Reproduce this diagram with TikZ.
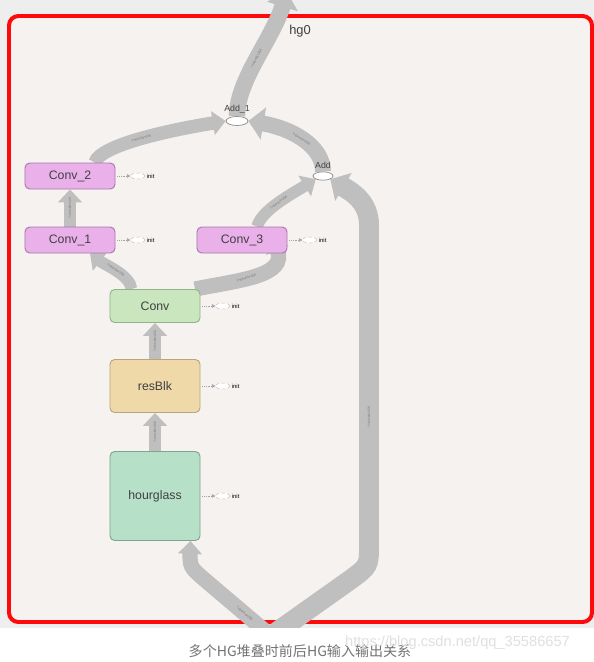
\documentclass[tikz,border=0pt]{standalone}
\usepackage{fontspec}
\setmainfont{Liberation Sans}
\newfontfamily\cjk{Noto Sans CJK SC}
\usetikzlibrary{shapes.geometric,arrows.meta,positioning,backgrounds}

\definecolor{pagegray}{HTML}{EEEEEE}
\definecolor{framefill}{HTML}{F5F2F0}
\definecolor{framered}{HTML}{FF0A0A}
\definecolor{edgegray}{HTML}{BFBFBF}
\definecolor{convpink}{HTML}{EAB0EA}
\definecolor{convpinkline}{HTML}{A878A8}
\definecolor{convgreen}{HTML}{C9E6BE}
\definecolor{convgreenline}{HTML}{92B486}
\definecolor{resfill}{HTML}{F0D9A9}
\definecolor{resline}{HTML}{BBA57C}
\definecolor{hgfill}{HTML}{B7E0C9}
\definecolor{hgline}{HTML}{82A48E}

\begin{document}
\begin{tikzpicture}[
  x=0.03cm, y=-0.03cm,
  op/.style={draw, rounded corners=4pt, line width=0.8pt, minimum width=2.7cm,
             inner sep=0pt, font=\fontsize{10.5}{12}\selectfont, text=black!75},
  addell/.style={ellipse, draw=black!45, fill=white, line width=0.6pt,
                 minimum width=0.66cm, minimum height=0.27cm, inner sep=0pt},
  initell/.style={ellipse, draw=black!25, densely dashed, fill=white, line width=0.4pt,
                  minimum width=0.42cm, minimum height=0.18cm, inner sep=0pt},
  initlbl/.style={font=\fontsize{5}{5}\selectfont, inner sep=0pt},
  opname/.style={font=\fontsize{7.5}{8}\selectfont, text=black!75, inner sep=0pt},
  dep/.style={draw=black!35, densely dotted, line width=0.5pt, -{Triangle[length=3pt, width=3pt]}},
  flow/.style={draw=edgegray, -{Triangle[length=11pt, width=20pt]}},
  bigflow/.style={draw=edgegray, -{Triangle[length=13pt, width=27pt]}},
  elab/.style={sloped, font=\fontsize{2.8}{3}\selectfont, text=black!55, inner sep=0pt}
]
\useasboundingbox (0,0) rectangle (594,662);

% op nodes
\node[op, fill=convpink, draw=convpinkline, minimum height=0.78cm] (conv2) at (70,176) {Conv\_2};
\node[op, fill=convpink, draw=convpinkline, minimum height=0.78cm] (conv1) at (70,240) {Conv\_1};
\node[op, fill=convpink, draw=convpinkline, minimum height=0.78cm] (conv3) at (242,240) {Conv\_3};
\node[op, fill=convgreen, draw=convgreenline, minimum height=0.99cm] (conv) at (155,306) {Conv};
\node[op, fill=resfill, draw=resline, minimum height=1.59cm] (resblk) at (155,386) {resBlk};
\node[op, fill=hgfill, draw=hgline, minimum height=2.67cm] (hg) at (155,496) {hourglass};

\node[addell] (add1) at (237,121) {};
\node[opname, above=2.5pt of add1] (add1lbl) {Add\_1};
\node[addell, minimum width=0.6cm, minimum height=0.25cm] (add) at (323,176) {};
\node[opname, above=2.5pt of add] (addlbl) {Add};

\node[font=\fontsize{11}{12}\selectfont, text=black!75] (title) at (300,31) {hg0};

% init inputs
\foreach \n in {conv2,conv1,conv3,conv,resblk,hg} {
  \node[initell, right=0.45cm of \n] (init-\n) {};
  \node[initlbl, right=1.5pt of init-\n] (initlbl-\n) {init};
  \draw[dep] ([xshift=1.5pt]\n.east) -- (init-\n.west);
}

% caption
\node[font=\cjk\fontsize{12}{13}\selectfont, text=black!55] (caption) at (300,651) {多个HG堆叠时前后HG输入输出关系};
\node[font=\fontsize{12.5}{13}\selectfont, text=black!12, anchor=west] (mark) at (341,643) {https://blog.csdn.net/qq\_35586657};

\begin{scope}[on background layer]
  \clip (0,0) rectangle (594,662);
  \fill[pagegray] (0,0) rectangle (594,662);
  \draw[framered, line width=3.4pt, fill=framefill, rounded corners=8pt] (9,16) rectangle (592,622);
  \coordinate (src) at (271,636);
  \coordinate (out) at (287,-8);

  % data flow
  \draw[flow, line width=10pt] (hg.north) -- node[elab] {?×64×64×256} (resblk.south);
  \draw[flow, line width=10pt] (resblk.north) -- node[elab] {?×64×64×256} (conv.south);
  \draw[flow, line width=10pt] (conv1.north) -- node[elab] {?×64×64×128} (conv2.south);
  \draw[flow, line width=10pt] ([xshift=0.66cm]conv.north west) .. controls (130,275) and (105,265)
    .. node[elab] {?×64×64×256} ([xshift=0.6cm]conv1.south);
  \draw[flow, line width=13pt] ([xshift=1.2cm]conv.north) .. controls (240,280) and (288,276)
    .. node[elab, pos=0.4] {?×64×64×256} ([xshift=-0.45cm, yshift=0.45cm]conv3.south east);
  \draw[flow, line width=10pt] ([xshift=0.45cm]conv3.north) .. controls (262,210) and (290,195)
    .. node[elab] {?×64×64×256} (add.south west);
  \draw[flow, line width=11.5pt] ([xshift=0.75cm]conv2.north) .. controls (100,145) and (170,130)
    .. node[elab] {?×64×64×256} (add1.west);
  \draw[bigflow, line width=13.5pt] (add.north) .. controls (323,145) and (290,128)
    .. node[elab] {?×64×64×256} (add1.east);
  \draw[bigflow, line width=14pt] (add1.north) .. controls (237,80) and (272,40)
    .. node[elab] {?×64×64×256} (out);
  \draw[flow, line width=13pt] (src) -- node[elab, pos=0.4] {?×64×64×256} (205,580)
    .. controls (190,567) .. (190,552) -- ([xshift=-0.3cm]hg.south east);
  \draw[bigflow, line width=17pt] (src) -- (350,580) .. controls (369,566) .. (369,545)
    -- node[elab, pos=0.4] {?×64×64×256} (369,225)
    .. controls (369,202) and (352,192) .. (add.south east);

  \fill[white] (0,628) rectangle (594,662);
\end{scope}
\end{tikzpicture}
\end{document}
